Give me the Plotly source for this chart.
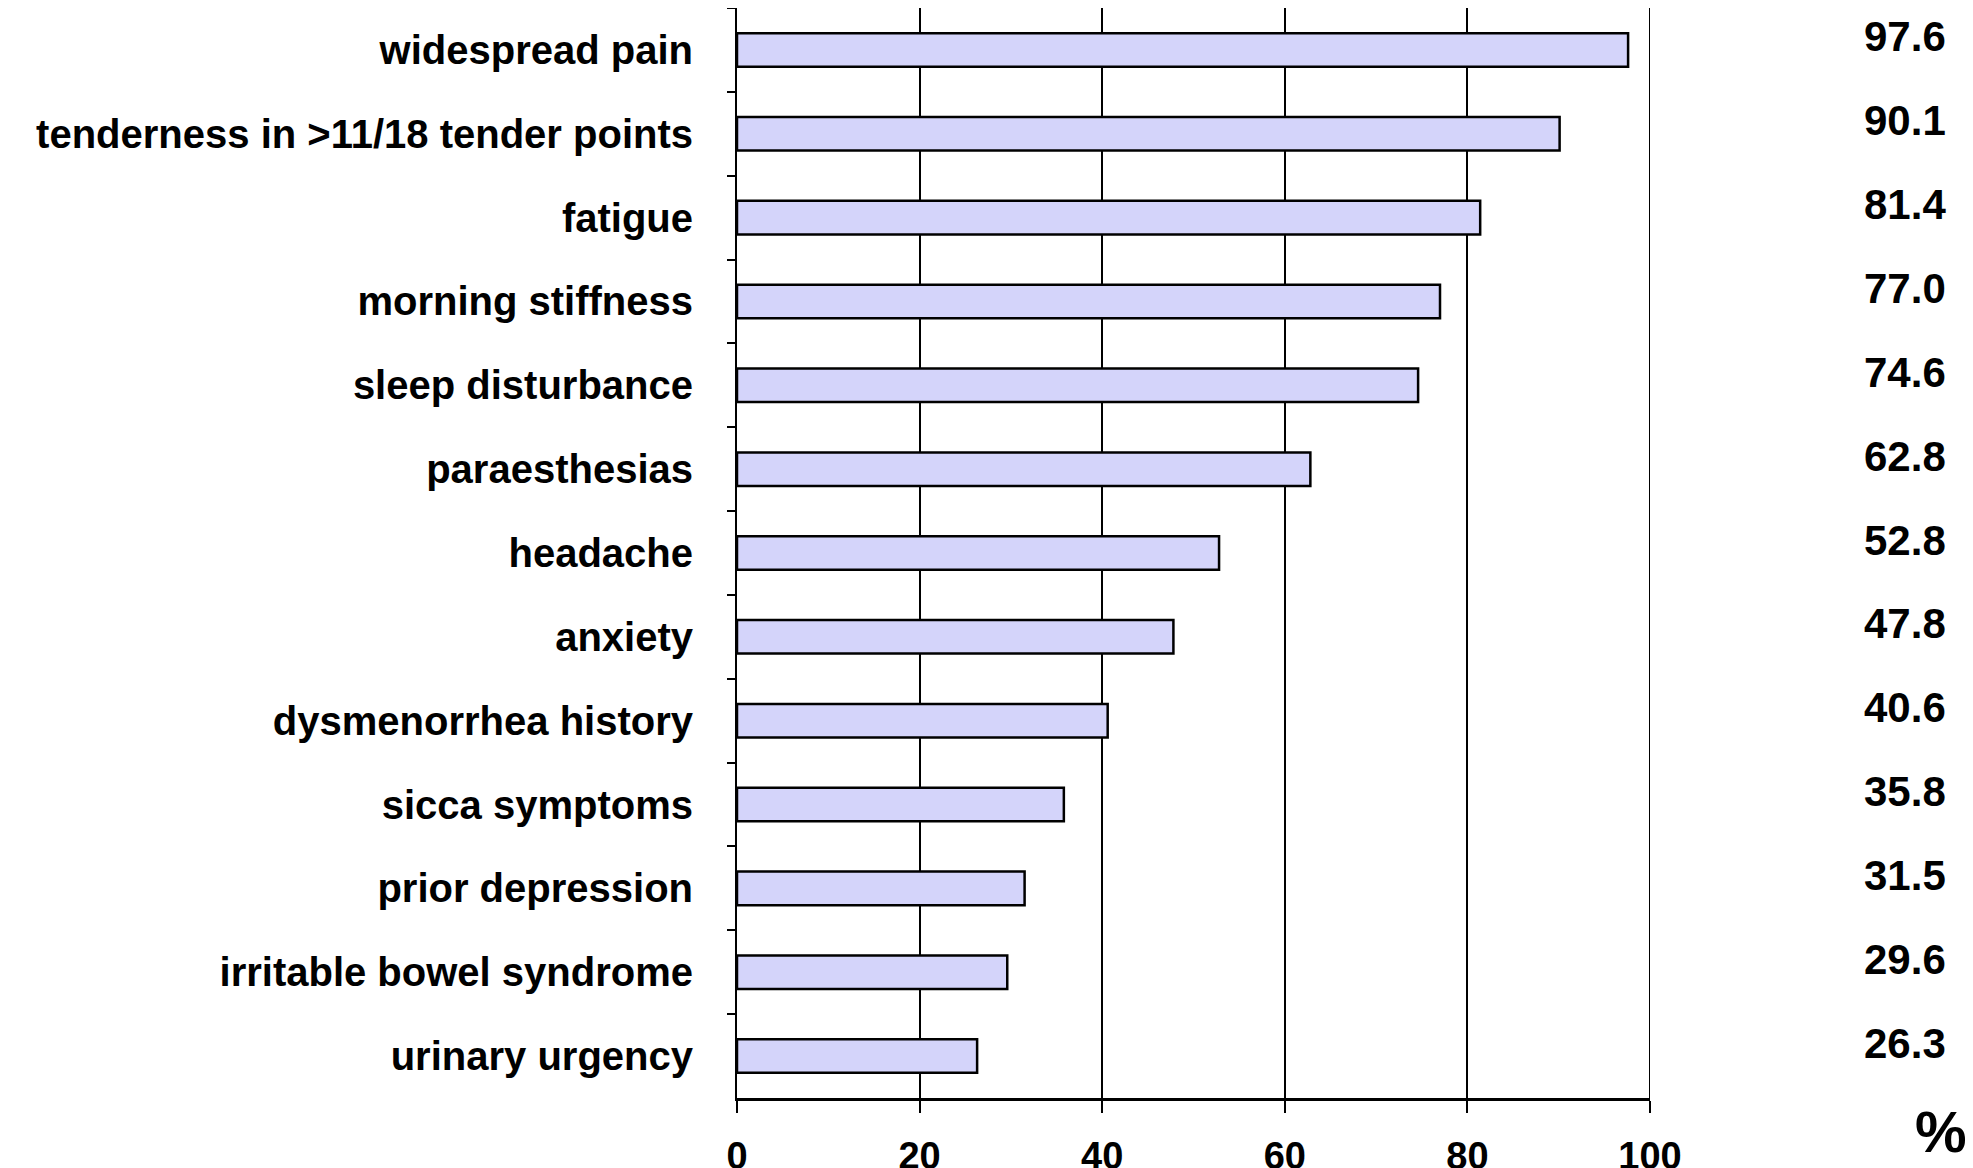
import plotly.graph_objects as go

categories = [
    "widespread pain",
    "tenderness in >11/18 tender points",
    "fatigue",
    "morning stiffness",
    "sleep disturbance",
    "paraesthesias",
    "headache",
    "anxiety",
    "dysmenorrhea history",
    "sicca symptoms",
    "prior depression",
    "irritable bowel syndrome",
    "urinary urgency",
]
values = [97.6, 90.1, 81.4, 77.0, 74.6, 62.8, 52.8, 47.8, 40.6, 35.8, 31.5, 29.6, 26.3]
value_labels = ["97.6", "90.1", "81.4", "77.0", "74.6", "62.8", "52.8", "47.8", "40.6", "35.8", "31.5", "29.6", "26.3"]
x_ticks = [0, 20, 40, 60, 80, 100]
unit_label = "%"

FONT = "Liberation Sans, Arial, sans-serif"

fig = go.Figure()
fig.add_trace(go.Bar(
    x=values,
    y=categories,
    orientation="h",
    marker=dict(color="#D4D4FA", line=dict(color="black", width=2.5)),
    hoverinfo="x+y",
))

for cat, lab in zip(categories, value_labels):
    fig.add_annotation(
        x=1.279, xref="paper", y=cat, yref="y", yshift=13,
        text=lab, showarrow=False, xanchor="center", yanchor="middle",
        font=dict(family=FONT, size=42, color="black", weight="bold"),
    )

fig.add_annotation(
    x=1.319, xref="paper", y=-0.031, yref="paper",
    text=unit_label, showarrow=False, xanchor="center", yanchor="middle",
    font=dict(family=FONT, size=58, color="black", weight="bold"),
)

# right border gridline at x = 100
fig.add_shape(type="line", xref="x", yref="paper", x0=x_ticks[-1], x1=x_ticks[-1], y0=0, y1=1,
              line=dict(color="black", width=2))

fig.update_layout(
    width=1973, height=1168,
    margin=dict(l=729, r=331, t=0, b=78, autoexpand=False),
    paper_bgcolor="white", plot_bgcolor="white",
    showlegend=False,
    bargap=0.6,
    font=dict(family=FONT, color="black", weight="bold"),
)
fig.update_xaxes(
    range=[0, 100], tickvals=x_ticks, ticktext=[str(v) for v in x_ticks],
    showgrid=True, gridcolor="black", gridwidth=2,
    showline=True, linecolor="black", linewidth=3,
    ticks="outside", ticklen=12, tickwidth=2, tickcolor="black",
    tickfont=dict(family=FONT, size=38, color="black", weight="bold"),
    ticklabelstandoff=10, automargin=False,
    zeroline=False, fixedrange=True,
)
fig.update_yaxes(
    categoryorder="array", categoryarray=categories,
    autorange="reversed",
    showline=True, linecolor="black", linewidth=2,
    ticks="outside", tickson="boundaries", ticklen=8, tickwidth=2, tickcolor="black",
    tickfont=dict(family=FONT, size=40, color="black", weight="bold"),
    ticklabelstandoff=34, automargin=False,
    showgrid=False, zeroline=False, fixedrange=True,
)

fig.write_html("out.html")
